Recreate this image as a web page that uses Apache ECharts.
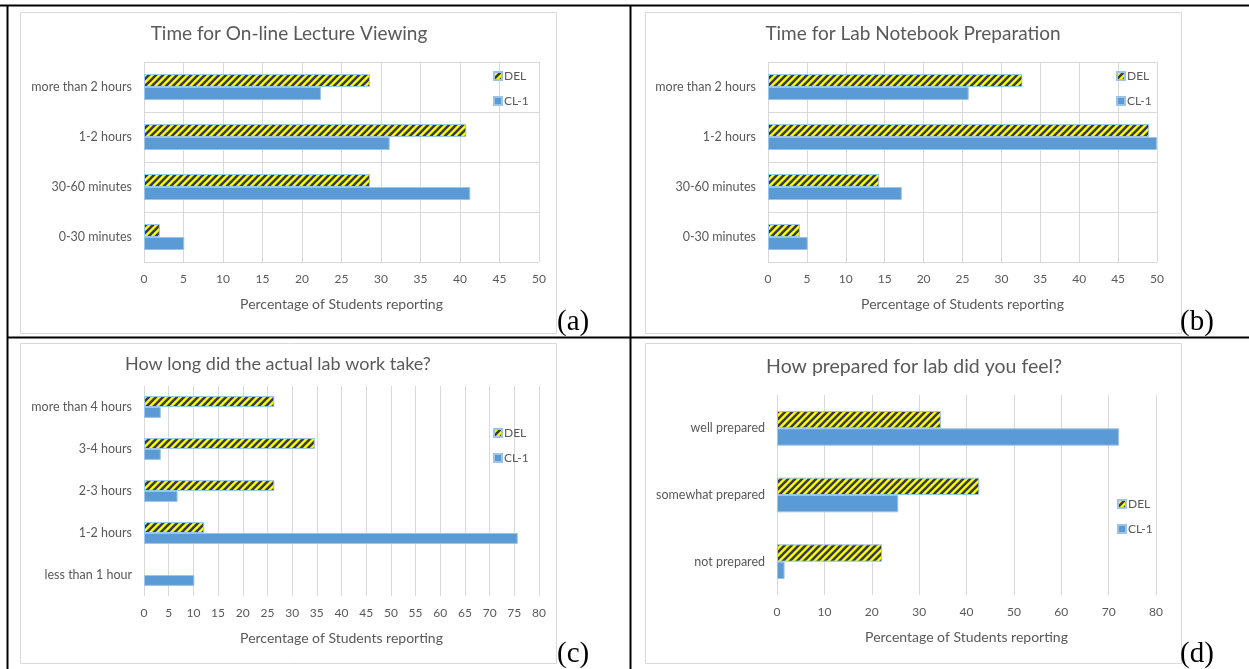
<!DOCTYPE html>
<html>
<head>
<meta charset="utf-8">
<script src="https://cdn.jsdelivr.net/npm/echarts@6/dist/echarts.min.js"></script>
<style>
  html, body { margin: 0; padding: 0; background: #fff; }
  #chart { width: 1249px; height: 669px; }
</style>
</head>
<body>
<div id="chart"></div>
<script>
// Survey results: percentage of students per response, DEL vs CL-1
const seriesNames = ['DEL', 'CL-1'];
const axisName = 'Percentage of Students reporting';

const titleA = 'Time for On-line Lecture Viewing';
const categoriesA = ['0-30 minutes', '30-60 minutes', '1-2 hours', 'more than 2 hours'];
const delA = [2.0, 28.6, 40.8, 28.6];
const cl1A = [5.1, 41.3, 31.1, 22.4];

const titleB = 'Time for Lab Notebook Preparation';
const categoriesB = ['0-30 minutes', '30-60 minutes', '1-2 hours', 'more than 2 hours'];
const delB = [4.1, 14.3, 49.0, 32.7];
const cl1B = [5.1, 17.2, 50.0, 25.8];

const titleC = 'How long did the actual lab work take?';
const categoriesC = ['less than 1 hour', '1-2 hours', '2-3 hours', '3-4 hours', 'more than 4 hours'];
const delC = [0, 12.2, 26.4, 34.6, 26.4];
const cl1C = [10.2, 75.7, 6.8, 3.4, 3.4];

const titleD = 'How prepared for lab did you feel?';
const categoriesD = ['not prepared', 'somewhat prepared', 'well prepared'];
const delD = [22.2, 42.7, 34.6];
const cl1D = [1.6, 25.6, 72.2];

const panelLabels = ['(a)', '(b)', '(c)', '(d)'];

// Yellow fill with dark upward diagonal stripes
function stripeTile() {
  const s = 7;
  const c = document.createElement('canvas');
  c.width = s; c.height = s;
  const g = c.getContext('2d');
  g.fillStyle = '#ffff00';
  g.fillRect(0, 0, s, s);
  g.strokeStyle = '#363b47';
  g.lineWidth = 2.6;
  g.beginPath();
  for (let k = -1; k <= 1; k++) {
    g.moveTo(k * s - 1, s + 1);
    g.lineTo(k * s + s + 1, -1);
  }
  g.stroke();
  return c;
}
const stripeFill = { image: stripeTile(), repeat: 'repeat' };

const FONT = 'Lato';
const GREY = '#595959';
const GRID_LINE = '#d9d9d9';

const panels = [
  { title: titleA, cats: categoriesA, del: delA, cl1: cl1A, max: 50, interval: 5,
    grid: { left: 144, top: 62, width: 395, height: 200 }, catLines: true,
    titleSize: 19, titlePos: { x: 284, y: 19 }, legendPos: { left: 493, top: 70 } },
  { title: titleB, cats: categoriesB, del: delB, cl1: cl1B, max: 50, interval: 5,
    grid: { left: 768, top: 62, width: 389, height: 200 }, catLines: true,
    titleSize: 19, titlePos: { x: 908, y: 19 }, legendPos: { left: 1116, top: 70 } },
  { title: titleC, cats: categoriesC, del: delC, cl1: cl1C, max: 80, interval: 5,
    grid: { left: 144, top: 386, width: 395, height: 210 }, catLines: false,
    titleSize: 18, titlePos: { x: 273, y: 350 }, legendPos: { left: 493, top: 427 } },
  { title: titleD, cats: categoriesD, del: delD, cl1: cl1D, max: 80, interval: 10,
    grid: { left: 777, top: 395, width: 379, height: 200 }, catLines: false,
    titleSize: 19.5, titlePos: { x: 909, y: 352 }, legendPos: { left: 1117, top: 498 } }
];

const option = {
  animation: false,
  backgroundColor: '#ffffff',
  textStyle: { fontFamily: FONT },
  title: [], legend: [], grid: [], xAxis: [], yAxis: [], series: [], graphic: []
};

// table borders and chart frames
const frames = [
  [20, 12, 536, 321], [645, 12, 536, 321],
  [20, 343, 536, 320], [645, 343, 536, 320]
];
frames.forEach(f => option.graphic.push({
  type: 'rect', silent: true, z: 0,
  shape: { x: f[0] + 0.5, y: f[1] + 0.5, width: f[2], height: f[3] },
  style: { fill: '#ffffff', stroke: '#d9d9d9', lineWidth: 1 }
}));
const lines = [
  [0, 5.5, 1249, 5.5], [7.5, 5, 7.5, 669], [630.5, 5, 630.5, 669], [7, 337.5, 1249, 337.5]
];
lines.forEach(l => option.graphic.push({
  type: 'line', silent: true, z: 10,
  shape: { x1: l[0], y1: l[1], x2: l[2], y2: l[3] },
  style: { stroke: '#000000', lineWidth: 2 }
}));
const labelPos = [[557, 308], [1180, 308], [557, 640], [1180, 640]];
panelLabels.forEach((t, i) => option.graphic.push({
  type: 'text', silent: true, z: 10,
  x: labelPos[i][0], y: labelPos[i][1],
  style: { text: t, font: '29px "Liberation Serif", "DejaVu Serif", serif', fill: '#000000' }
}));

const noZeroBorder = v => (v === 0 ? { value: 0, itemStyle: { borderWidth: 0 } } : v);

panels.forEach((p, i) => {
  option.title.push({
    text: p.title, left: p.titlePos.x, top: p.titlePos.y, textAlign: 'center',
    textStyle: { fontFamily: FONT, fontSize: p.titleSize, fontWeight: 'normal', color: GREY }
  });
  option.legend.push({
    data: seriesNames, orient: 'vertical', left: p.legendPos.left, top: p.legendPos.top,
    padding: 0, itemWidth: 8, itemHeight: 8, itemGap: 13, icon: 'rect',
    selectedMode: false,
    textStyle: { fontFamily: FONT, fontSize: 12, color: GREY, padding: [0, 0, 0, -3] }
  });
  option.grid.push(Object.assign({ containLabel: false }, p.grid));
  option.xAxis.push({
    type: 'value', gridIndex: i, min: 0, max: p.max, interval: p.interval,
    name: axisName, nameLocation: 'middle', nameGap: 35,
    nameTextStyle: { fontFamily: FONT, fontSize: 14, color: GREY },
    axisLine: { show: false }, axisTick: { show: false },
    axisLabel: { fontFamily: FONT, fontSize: 12, color: GREY, margin: 11 },
    splitLine: { show: true, lineStyle: { color: GRID_LINE, width: 1 } }
  });
  option.yAxis.push({
    type: 'category', gridIndex: i, data: p.cats,
    axisLine: { show: false }, axisTick: { show: false },
    axisLabel: { fontFamily: FONT, fontSize: 12.5, color: GREY, margin: 12 },
    splitLine: { show: p.catLines, interval: 0, lineStyle: { color: GRID_LINE, width: 1 } }
  });
  // DEL first so it sits above CL-1 within each category band
  option.series.push({
    name: 'DEL', type: 'bar', xAxisIndex: i, yAxisIndex: i,
    data: p.del.map(noZeroBorder),
    barCategoryGap: '48%', barGap: '0%',
    itemStyle: { color: stripeFill, borderColor: '#9dc3e6', borderWidth: 1 }
  });
  option.series.push({
    name: 'CL-1', type: 'bar', xAxisIndex: i, yAxisIndex: i,
    data: p.cl1.map(noZeroBorder),
    barCategoryGap: '48%', barGap: '0%',
    itemStyle: { color: '#5b9bd5', borderColor: '#9dc3e6', borderWidth: 1 }
  });
});

const chart = echarts.init(document.getElementById('chart'), null, { renderer: 'canvas' });
chart.setOption(option);
</script>
</body>
</html>
